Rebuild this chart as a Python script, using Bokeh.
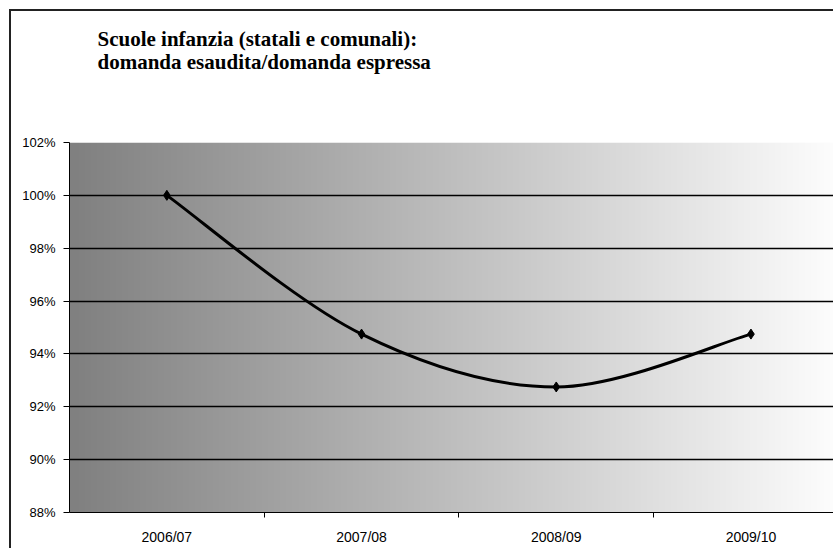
import numpy as np
from bokeh.plotting import figure
from bokeh.models import Range1d, FixedTicker, NumeralTickFormatter, Title
from bokeh.embed import file_html
from bokeh.resources import INLINE

# ---- data ----
categories = ["2006/07", "2007/08", "2008/09", "2009/10"]
values = [1.00, 0.9475, 0.9275, 0.9475]
y_ticks = [0.88, 0.90, 0.92, 0.94, 0.96, 0.98, 1.00, 1.02]
title_lines = ["Scuole infanzia (statali e comunali):", "domanda esaudita/domanda espressa"]

# ---- layout constants ----
W, H = 824, 539
ML, MT, MB = 58, 131, 38
PX_PER_CAT = 194.7
X_END = (W - ML) / PX_PER_CAT
Y0, Y1 = 0.88, 1.02

p = figure(width=W, height=H, output_backend="svg", toolbar_location=None,
           x_range=Range1d(0, X_END), y_range=Range1d(Y0, Y1),
           min_border_left=ML, min_border_right=0, min_border_top=MT, min_border_bottom=MB)
p.styles = {"border-left": "2px solid #222", "border-top": "2px solid #222",
            "margin-left": "9px", "margin-top": "9px"}
p.outline_line_color = None
p.background_fill_color = "white"
p.border_fill_color = "white"

# gradient background (dark gray -> white, left to right)
n = 256
g = np.linspace(128, 255, n).astype(np.uint8)
img = np.zeros((1, n), dtype=np.uint32)
view = img.view(dtype=np.uint8).reshape((1, n, 4))
view[0, :, 0] = g
view[0, :, 1] = g
view[0, :, 2] = g
view[0, :, 3] = 255
grad_end = len(categories) * 1.0015
p.image_rgba(image=[img], x=0, y=Y0, dw=grad_end, dh=Y1 - Y0, level="image")

# x positions from category index
xs = [i + 0.5 for i in range(len(categories))]

# smooth line: Bezier segments with Catmull-Rom control points
def ctrl(pts):
    out = []
    m = len(pts)
    for i in range(m - 1):
        p0 = pts[max(i - 1, 0)]
        p1 = pts[i]
        p2 = pts[i + 1]
        p3 = pts[min(i + 2, m - 1)]
        c1 = (p1[0] + (p2[0] - p0[0]) / 6, p1[1] + (p2[1] - p0[1]) / 6)
        c2 = (p2[0] - (p3[0] - p1[0]) / 6, p2[1] - (p3[1] - p1[1]) / 6)
        out.append((p1, p2, c1, c2))
    return out

segs = ctrl(list(zip(xs, values)))
p.bezier(x0=[s[0][0] for s in segs], y0=[s[0][1] for s in segs],
         x1=[s[1][0] for s in segs], y1=[s[1][1] for s in segs],
         cx0=[s[2][0] for s in segs], cy0=[s[2][1] for s in segs],
         cx1=[s[3][0] for s in segs], cy1=[s[3][1] for s in segs],
         line_color="black", line_width=3)
p.scatter(xs, values, marker="diamond", size=10, color="black")

# x axis
xa = p.xaxis[0]
xa.ticker = FixedTicker(ticks=xs, minor_ticks=[i for i in range(1, len(categories))])
xa.major_label_overrides = {x: c for x, c in zip(xs, categories)}
xa.major_tick_line_color = None
xa.major_tick_out = 0
xa.major_tick_in = 0
xa.minor_tick_out = 5
xa.minor_tick_in = 0
xa.minor_tick_line_color = "black"
xa.axis_line_color = "black"
xa.major_label_standoff = 11
xa.major_label_text_font = "Liberation Sans"
xa.major_label_text_font_size = "14px"
xa.major_label_text_color = "black"

# y axis
ya = p.yaxis[0]
ya.ticker = FixedTicker(ticks=y_ticks)
ya.formatter = NumeralTickFormatter(format="0%")
ya.major_tick_out = 6
ya.major_tick_in = 0
ya.minor_tick_line_color = None
ya.major_tick_line_color = "black"
ya.axis_line_color = "black"
ya.major_label_standoff = 8
ya.major_label_text_font = "Liberation Sans"
ya.major_label_text_font_size = "13px"
ya.major_label_text_color = "black"

# grids
p.xgrid.grid_line_color = None
p.ygrid.ticker = FixedTicker(ticks=y_ticks[1:-1])
p.ygrid.grid_line_color = "black"
p.ygrid.grid_line_width = 1.3

# title (two lines, bold serif); a blank spacer title sits next to the frame
p.title.text = ""
p.add_layout(Title(text=" ", text_font_size="1px", standoff=66), "above")
standoffs = [0, -6]
for t, so in zip(reversed(title_lines), standoffs):
    p.add_layout(Title(text=t, align="left", offset=28, standoff=so,
                       text_font="Times New Roman, Liberation Serif, serif",
                       text_font_style="bold",
                       text_font_size="21px", text_color="black"), "above")

open("out.html", "w").write(file_html(p, INLINE))
